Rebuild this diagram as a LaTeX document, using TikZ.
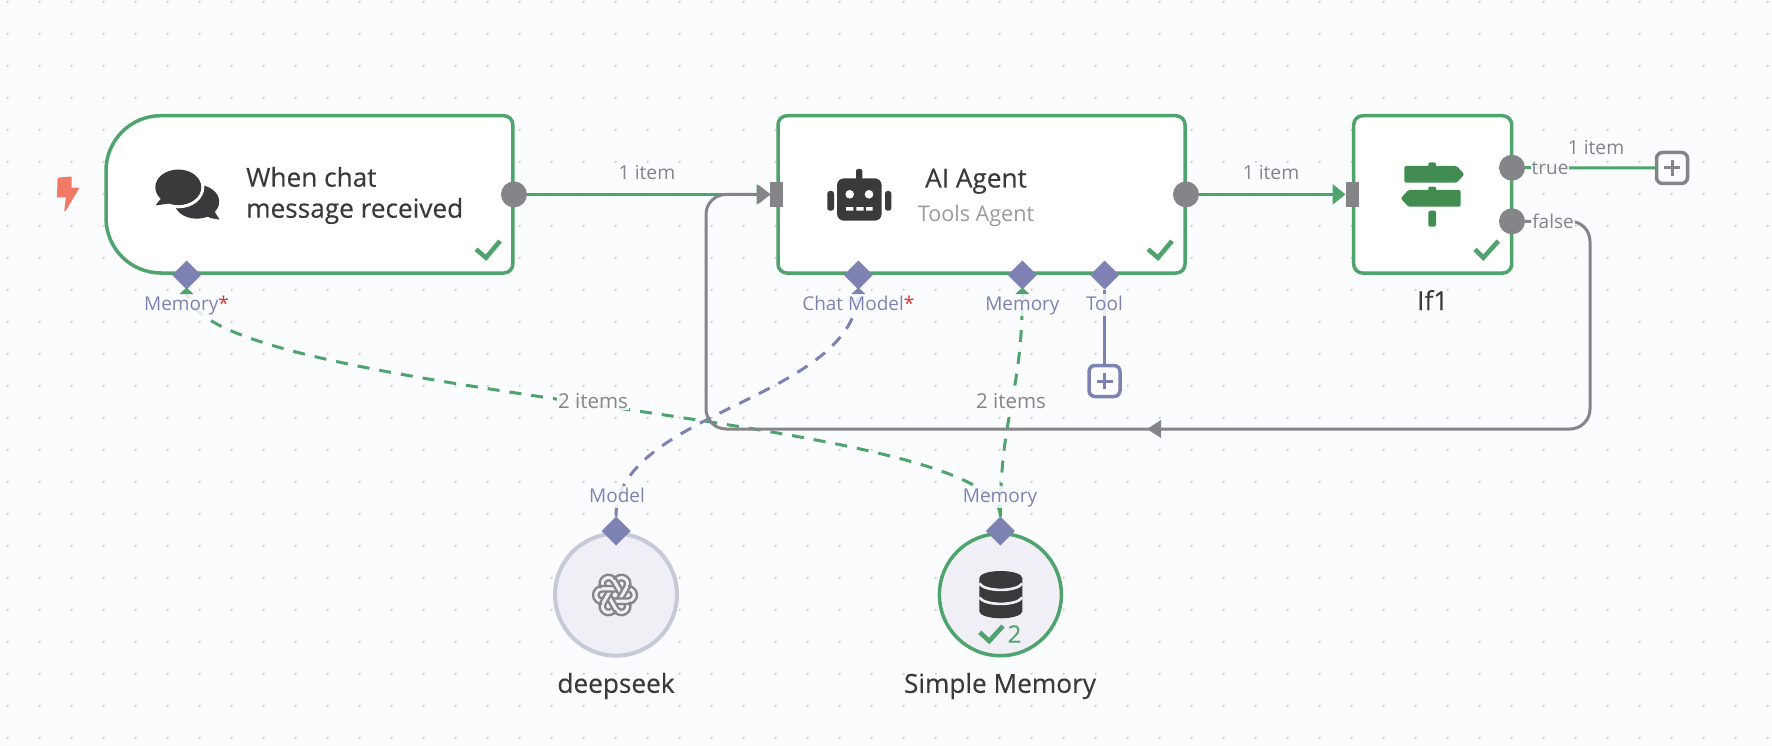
\documentclass[tikz,border=0pt]{standalone}
\usepackage{fontspec}
\setmainfont{Open Sans}
\newfontfamily\medfont[FakeBold=0.3]{Open Sans}
\usetikzlibrary{arrows.meta,shapes.geometric}
\definecolor{bgc}{HTML}{FBFCFE}
\definecolor{dotc}{HTML}{C6C8CE}
\definecolor{grn}{HTML}{4FA36C}
\definecolor{gry}{HTML}{858589}
\definecolor{lgry}{HTML}{9A9AA0}
\definecolor{prp}{HTML}{7E82B3}
\definecolor{ink}{HTML}{3A3A3D}
\definecolor{sign}{HTML}{418C50}
\definecolor{circ}{HTML}{EFEFF5}
\definecolor{cborder}{HTML}{C6C9D6}
\definecolor{redst}{HTML}{E0302C}
\definecolor{bolt}{HTML}{F07A66}
\tikzset{
  x=1pt,y=-1pt,
  nodebox/.style={draw=grn,line width=3.5pt,fill=white},
  roundbox/.style={nodebox,rectangle,rounded corners=9pt,inner sep=0pt,outer sep=0pt},
  subnode/.style={circle,inner sep=0pt,outer sep=0pt,minimum size=122pt,fill=circ},
  port/.style={diamond,fill=prp,inner sep=0pt,outer sep=0pt,minimum width=29pt,minimum height=29pt},
  outport/.style={circle,fill=gry,inner sep=0pt,outer sep=0pt,minimum size=26pt},
  inport/.style={rectangle,fill=gry,inner sep=0pt,outer sep=0pt,minimum width=13pt,minimum height=25pt},
  plusbox/.style={rectangle,rounded corners=6pt,line width=3.5pt,fill=bgc,minimum size=31pt,inner sep=0pt,outer sep=0pt},
  title/.style={text=ink,font=\medfont\fontsize{26.2}{32.5}\selectfont,inner sep=0pt},
  subtitle/.style={text=lgry,font=\fontsize{21.6}{24}\selectfont,inner sep=0pt},
  edgelabel/.style={text=gry,font=\fontsize{20.5}{22}\selectfont,inner sep=1pt,fill=bgc,fill opacity=.9,text opacity=1},
  itemlabel/.style={text=gry,font=\fontsize{19.3}{22}\selectfont,inner sep=1pt},
  portlabel/.style={text=prp,font=\fontsize{19}{22}\selectfont,inner xsep=1pt,inner ysep=2pt,text height=14pt,text depth=4pt,fill=bgc,fill opacity=.85,text opacity=1},
  flow/.style={line width=3pt},
  supply/.style={line width=3pt,dash pattern=on 12pt off 10pt},
  head/.style={-{Triangle[length=13pt,width=20pt]}},
  checkm/.style={draw=grn,line width=4.6pt}
}
\newcommand{\rstar}{\textcolor{redst}{*}}
\begin{document}
\begin{tikzpicture}
\useasboundingbox (0,0) rectangle (1772,746);
\fill[bgc] (0,0) rectangle (1772,746);
% dotted grid
\fill[dotc] foreach \i in {0,...,55}{ foreach \j in {0,...,23}{ (7.7+32*\i,1.7+32*\j) circle[radius=1.1pt] } };

% main boxes
\draw[nodebox] (161,115.7) -- (503.8,115.7) arc[start angle=90,end angle=0,radius=9pt]
  -- (512.8,264) arc[start angle=0,end angle=-90,radius=9pt]
  -- (161,273) arc[start angle=-90,end angle=-180,radius=55pt]
  -- (106,170.7) arc[start angle=180,end angle=90,radius=55pt] -- cycle;
\node[roundbox,minimum width=407pt,minimum height=157.3pt] (agent) at (981.5,194.4) {};
\node[roundbox,minimum width=158pt,minimum height=157.3pt] (ifnode) at (1432.7,194.4) {};
\node[subnode,draw=cborder,line width=4pt] (deepseek) at (616,594.7) {};
\node[subnode,draw=grn,line width=3.5pt] (simplemem) at (1000.4,594.7) {};

% ports
\node[outport] (trigOut) at (514,194.4) {};
\node[outport] (agentOut) at (1186,194.4) {};
\node[outport] (ifTrue) at (1512,167.7) {};
\node[outport] (ifFalse) at (1512,221.3) {};
\node[inport] (agentIn) at (776,194.4) {};
\node[inport] (ifIn) at (1352,194.4) {};
\node[port] (trigMem) at (186.5,275) {};
\node[port] (agentModel) at (858.3,275) {};
\node[port] (agentMem) at (1022.4,275) {};
\node[port] (agentTool) at (1104.5,275) {};
\node[port] (dsTop) at (616,531) {};
\node[port] (smTop) at (1000.4,531) {};
\node[plusbox,draw=prp] (toolPlus) at (1104.5,381) {};
\node[plusbox,draw=gry] (truePlus) at (1672,168) {};

% connectors
\coordinate (c1) at (1590,221.3);
\coordinate (c2) at (1590,429);
\coordinate (c3) at (706,429);
\coordinate (c4) at (706,194.4);
\draw[grn,flow,head] (trigOut) -- (agentIn.west);
\draw[grn,flow,head] (agentOut) -- (ifIn.west);
\draw[grn,flow] (ifTrue) -- (truePlus);
\draw[prp,flow] (agentTool) -- (toolPlus);
\draw[prp,supply] (dsTop.north) .. controls (616,411) and (858.3,399) .. (agentModel.south);
\draw[grn,supply] (smTop.north) .. controls (1000.4,411) and (186.5,399) .. (trigMem.south);
\draw[grn,supply] (smTop.north) .. controls (1000.4,411) and (1022.4,399) .. (agentMem.south);
\draw[gry,flow,rounded corners=20pt] (ifFalse) -- (c1) -- (c2) -- (c3) -- (c4) -- (agentIn.west);
\fill[gry,rounded corners=1.5pt] (758,184.4) -- (770.5,194.4) -- (758,204.4) -- cycle;
\fill[gry] (1147,429) -- (1161,420) -- (1161,438) -- cycle;

% plus signs
\draw[prp,line width=3pt] ([xshift=-8pt]toolPlus.center) -- ([xshift=8pt]toolPlus.center) ([yshift=-8pt]toolPlus.center) -- ([yshift=8pt]toolPlus.center);
\draw[gry,line width=3pt] ([xshift=-8pt]truePlus.center) -- ([xshift=8pt]truePlus.center) ([yshift=-8pt]truePlus.center) -- ([yshift=8pt]truePlus.center);

% checks
\draw[checkm] (476,249.3) -- (486,257.7) -- (500,241);
\draw[checkm] (1148,249.3) -- (1158,257.7) -- (1172,241);
\draw[checkm] (1475,249.3) -- (1483.3,257.7) -- (1498.3,241);
\draw[checkm] (979.7,632.3) -- (989.2,641) -- (1003,626);

% lightning
\fill[bolt,draw=bolt,line width=1.5pt,line join=round] (58.3,178.3) -- (71,177.3) -- (70.7,188.3) -- (78.3,188.3) -- (65,210.7) -- (66.7,196.7) -- (57.7,196.7) -- cycle;

% chat icon
\fill[ink] (196.7,201.7) ellipse[x radius=22.5pt,y radius=17pt];
\fill[ink] (205,212) -- (219.5,219.5) -- (210,218) -- cycle;
\fill[ink] (211,206) -- (219.5,219.5) -- (205,216) -- cycle;
\fill[white] (178.3,187.3) ellipse[x radius=26pt,y radius=21pt];
\fill[ink] (178.3,187.3) ellipse[x radius=23pt,y radius=17.8pt];
\fill[ink] (162,197) -- (155.5,205.5) -- (172,203) -- cycle;

% robot icon
\fill[ink,rounded corners=7pt] (837,178.3) rectangle (881.7,220.7);
\fill[ink,rounded corners=2pt] (856,169) rectangle (862.3,180);
\fill[ink,rounded corners=2.5pt] (827.3,191) rectangle (834,210.7);
\fill[ink,rounded corners=2.5pt] (885,191) rectangle (891.3,210.7);
\fill[white] (849.7,194.3) circle[radius=4.3pt] (869,194.3) circle[radius=4.3pt];
\fill[white] (846,207.2) rectangle (853.3,210.6) (856.3,207.2) rectangle (863.7,210.6) (866,207.2) rectangle (872.7,210.6);

% signpost icon
\fill[sign,rounded corners=1.5pt] (1428.3,162.3) rectangle (1436,170);
\fill[sign,rounded corners=1.5pt] (1404.3,166) -- (1456.7,166) -- (1464.3,174.3) -- (1456.7,182.7) -- (1404.3,182.7) -- cycle;
\fill[sign,rounded corners=1pt] (1428.3,186.7) rectangle (1436,192);
\fill[sign,rounded corners=1.5pt] (1408.3,190) -- (1460.7,190) -- (1460.7,206.7) -- (1408.3,206.7) -- (1400.7,198.3) -- cycle;
\fill[sign,rounded corners=1.5pt] (1428.3,210.7) rectangle (1436,226.7);

% knot logo: six lobes with spiralling inner lines
\foreach \a in {0,60,...,300}{
  \begin{scope}[shift={(615,595)},rotate=\a]
    \draw[gry,line width=2.3pt,line join=round] (13,-9) arc[start angle=90,end angle=-90,radius=9pt] -- (1,9);
    \draw[gry,line width=2.3pt,line join=round] (13,-3.5) arc[start angle=90,end angle=-90,radius=3.5pt] -- (-2.5,3.5);
  \end{scope}
}

% database icon
\fill[ink] (979.3,578) arc[start angle=180,end angle=0,x radius=21.5pt,y radius=7pt] -- (1022.3,611.3) arc[start angle=0,end angle=-180,x radius=21.5pt,y radius=7pt] -- cycle;
\draw[circ,line width=2.6pt] (979.3,583.5) .. controls (985,592) and (1016.6,592) .. (1022.3,583.5);
\draw[circ,line width=2.6pt] (979.3,597.5) .. controls (985,606) and (1016.6,606) .. (1022.3,597.5);

% texts
\node[title,anchor=west,align=left] (trigTitle) at (246,195.4) {When chat\\[-1.5pt]message received};
\node[title,text height=19pt,text depth=6pt] (agentTitle) at (976,181) {AI Agent};
\node[subtitle] (agentSub) at (976,216) {Tools Agent};
\node[title] (ifTitle) at (1432.7,300) {If1};
\node[title] (dsTitle) at (616,686) {deepseek};
\node[title] (smTitle) at (1000,686) {Simple Memory};
\node[text=grn,font=\medfont\fontsize{24}{28}\selectfont,inner sep=0pt] (memCount) at (1014.5,634) {2};

\node[itemlabel] (lab1) at (647,173) {1 item};
\node[itemlabel] (lab2) at (1271,173) {1 item};
\node[itemlabel] (lab3) at (1596,148) {1 item};
\node[edgelabel,font=\fontsize{19}{22}\selectfont] (lab4) at (1550,168) {true};
\node[edgelabel,font=\fontsize{19}{22}\selectfont] (lab5) at (1553,221) {false};
\node[edgelabel] (lab6) at (593,401) {2 items};
\node[edgelabel] (lab7) at (1011,401) {2 items};

\node[portlabel] (pl1) at (186.5,305) {Memory\rstar};
\node[portlabel] (pl2) at (858.3,305) {Chat Model\rstar};
\node[portlabel] (pl3) at (1022.4,305) {Memory};
\node[portlabel] (pl4) at (1104.5,305) {Tool};
\node[portlabel] (pl5) at (617,497.3) {Model};
\node[portlabel] (pl6) at (1000,497.3) {Memory};

% small triangles
\fill[grn] (179.5,294) -- (186.5,287.5) -- (193.5,294) -- cycle;
\fill[prp] (851.3,294) -- (858.3,287.5) -- (865.3,294) -- cycle;
\fill[grn] (1015.4,294) -- (1022.4,287.5) -- (1029.4,294) -- cycle;
\end{tikzpicture}
\end{document}
